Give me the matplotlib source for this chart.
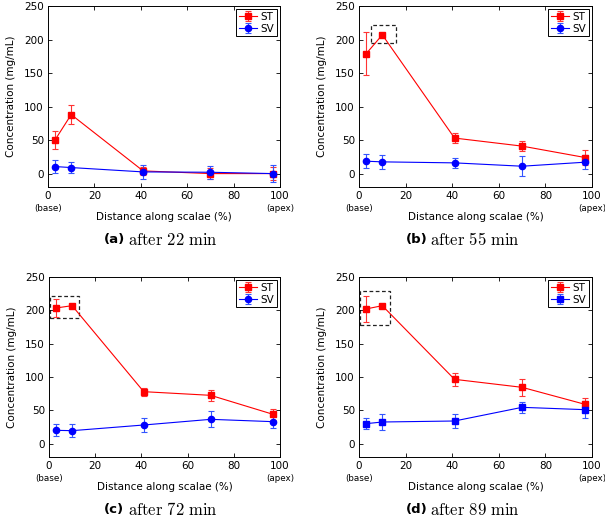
import numpy as np
import matplotlib.pyplot as plt
from matplotlib.patches import Rectangle

plt.rcParams['font.family'] = ['DejaVu Sans']
plt.rcParams['mathtext.fontset'] = 'cm'

dist = [3, 10, 41, 70, 97]

st_a = [50, 88, 4, 0, 0]
st_a_err = [14, 14, 6, 8, 10]
sv_a = [10.5, 9, 2.5, 2, 0]
sv_a_err = [10, 8.5, 10, 9.5, 13]

st_b = [178.5, 207, 53, 41, 24]
st_b_err = [32, 2, 8, 8, 11]
sv_b = [18.5, 17.5, 16, 11, 17]
sv_b_err = [10, 10, 8, 15, 10]

st_c = [203.5, 207, 78, 72.5, 44]
st_c_err = [14, 2, 6, 8, 8]
sv_c = [20, 19.5, 28, 36.5, 33]
sv_c_err = [9, 10, 11, 12, 10]

st_d = [202, 207, 96.5, 84.5, 59]
st_d_err = [20, 2, 9.5, 12.5, 9]
sv_d = [30, 32.5, 34, 54.5, 51]
sv_d_err = [8, 12.5, 10, 8, 12.5]

letters = ['a', 'b', 'c', 'd']
minutes = [22, 55, 72, 89]
sv_markers = ['o', 'o', 'o', 's']
# dashed highlight boxes (x0, x1, y0, y1), none for (a)
boxes = [None, (5, 16, 195, 222), (0.3, 13, 189, 221), (0.5, 13.3, 178, 229)]

st_all = [(st_a, st_a_err), (st_b, st_b_err), (st_c, st_c_err), (st_d, st_d_err)]
sv_all = [(sv_a, sv_a_err), (sv_b, sv_b_err), (sv_c, sv_c_err), (sv_d, sv_d_err)]

W, H = 605, 520
fig = plt.figure(figsize=[W / 100, H / 100], dpi=100)

# axes rectangles in pixels: left, top, right, bottom
rects = [(48, 6, 280, 187), (359, 6, 592, 187), (49, 277, 280, 457), (359, 277, 592, 457)]
caps = [(104, 240), (406, 240), (104, 510), (406, 510)]

for i in range(4):
    l, t, r, b = rects[i]
    ax = fig.add_axes([l / W, (H - b) / H, (r - l) / W, (b - t) / H])
    st, st_err = st_all[i]
    sv, sv_err = sv_all[i]
    ax.errorbar(dist, st, yerr=st_err, color='#ff0000', marker='s', ms=4, lw=0.8,
                elinewidth=0.8, capsize=2, capthick=0.8, label='ST', ecolor='#ff3333')
    ax.errorbar(dist, sv, yerr=sv_err, color='#0000ff', marker=sv_markers[i],
                ms=4.5 if sv_markers[i] == 'o' else 4, lw=0.8,
                elinewidth=0.8, capsize=2, capthick=0.8, label='SV', ecolor='#3355ff')
    if boxes[i] is not None:
        x0, x1, y0, y1 = boxes[i]
        ax.add_patch(Rectangle((x0, y0), x1 - x0, y1 - y0, fill=False, ls=(0, (3, 2)),
                               lw=0.9, ec='#222222'))
    ax.set_xlim(0, 100)
    ax.set_ylim(-20, 250)
    ax.set_xticks([0, 20, 40, 60, 80, 100])
    ax.set_yticks([0, 50, 100, 150, 200, 250])
    ax.tick_params(direction='in', length=3, width=0.6, labelsize=7.5, top=True, right=True, pad=3)
    for s in ax.spines.values():
        s.set_linewidth(0.7)
    ax.text(0, -0.095, '(base)', transform=ax.transAxes, ha='center', va='top', fontsize=6.3)
    ax.text(1, -0.095, '(apex)', transform=ax.transAxes, ha='center', va='top', fontsize=6.3)
    ax.set_xlabel('Distance along scalae (%)', fontsize=7.5, labelpad=8)
    ax.set_ylabel('Concentration (mg/mL)', fontsize=7.5, labelpad=6)
    leg = ax.legend(loc='upper right', fontsize=7.5, fancybox=False, edgecolor='black',
                    borderaxespad=0.3, handlelength=1.8, handletextpad=0.3,
                    borderpad=0.25, labelspacing=0.2, framealpha=1)
    leg.get_frame().set_linewidth(0.7)

    cx, cy = caps[i]
    fig.text(cx / W, 1 - cy / H, '(%s)' % letters[i], ha='left', va='center',
             fontsize=9.5, fontweight='bold')
    fig.text((cx + 24) / W, 1 - cy / H, r'$\mathrm{after\ %d\ min}$' % minutes[i], ha='left',
             va='center', fontsize=12)

fig.savefig('out.png', dpi=100)
